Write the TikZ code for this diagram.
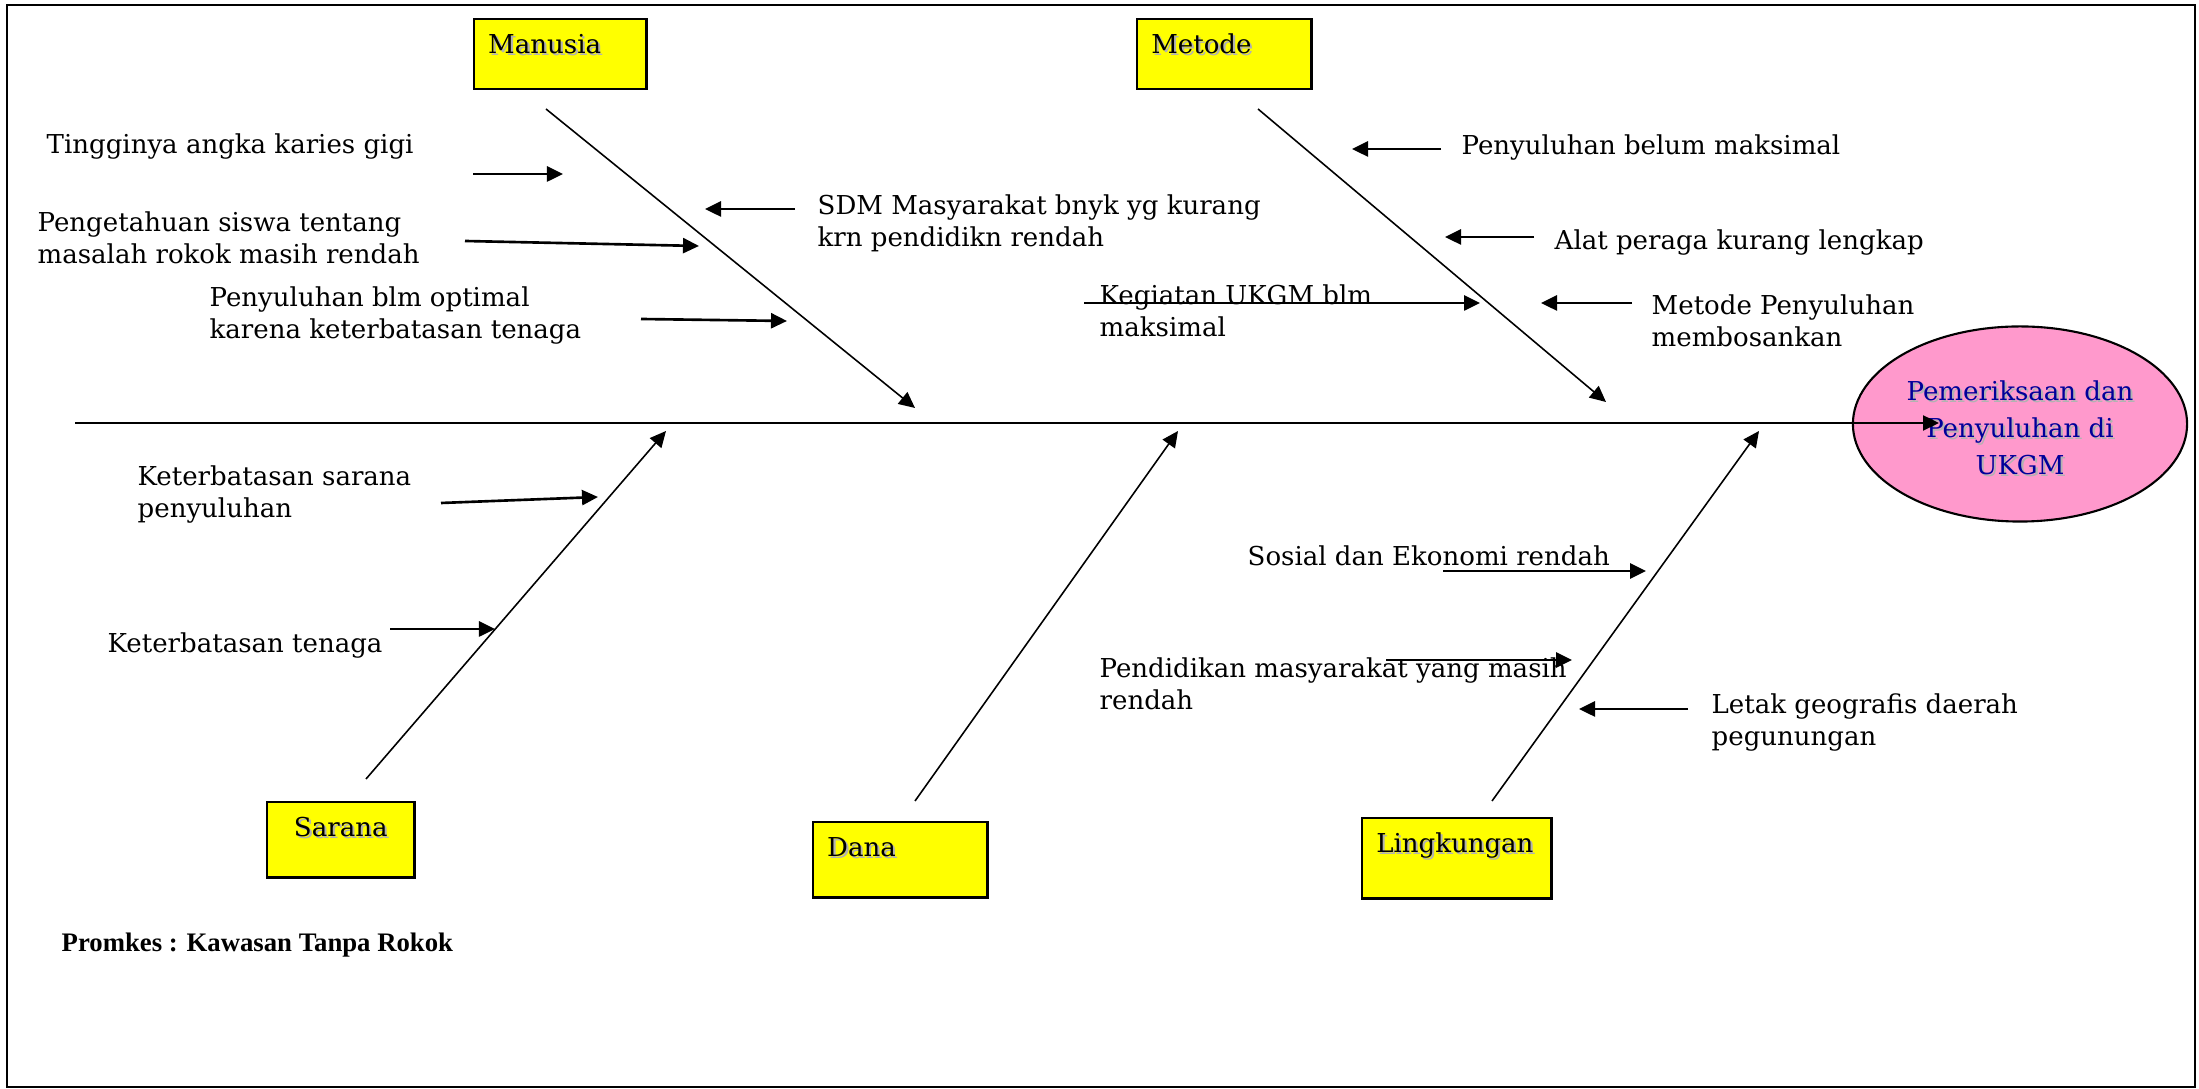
\documentclass[tikz,border=0pt]{standalone}
\usepackage{fontspec}
\setmainfont{DejaVu Serif}
\newfontfamily\titlefont{Liberation Serif}
\usetikzlibrary{arrows.meta}
\usetikzlibrary{positioning}
\usetikzlibrary{shapes.geometric}
\definecolor{causeyellow}{RGB}{255,255,0}
\definecolor{effectpink}{RGB}{255,153,204}
\definecolor{effectblue}{RGB}{0,0,153}
\newcommand{\shadowed}[1]{\makebox[0pt][l]{\kern0.6pt\raisebox{-0.6pt}{\textcolor{black!30}{#1}}}#1}
\tikzset{tip/.style={-{Triangle[length=0.16cm,width=0.15cm]}}}
\tikzset{bone/.style={line width=0.45pt, tip}}
\tikzset{spine/.style={line width=0.65pt, tip}}
\tikzset{sub/.style={line width=0.75pt, tip}}
\tikzset{cause/.style={draw, fill=causeyellow, line width=0.7pt, anchor=north west,
    inner xsep=0.14cm, inner ysep=0.1cm, text height=0.24cm, align=left}}
\tikzset{reason/.style={inner sep=0pt, anchor=west, align=left}}

\begin{document}
\begin{tikzpicture}[x=0.01cm, y=-0.01cm, font=\fontsize{7.4}{9.1}\selectfont]
    \useasboundingbox (0,0) rectangle (2199,1089);
    \draw[line width=0.8pt] (7,5) rectangle (2195,1087);

    % main categories
    \node[cause, text width=1.44cm, text depth=0.26cm] (manusia) at (473,18) {\shadowed{Manusia}};
    \node[cause, text width=1.46cm, text depth=0.26cm] (metode) at (1136,18) {\shadowed{Metode}};
    \node[cause, text width=1.19cm, text depth=0.31cm, align=center] (sarana) at (266,801) {\shadowed{Sarana}};
    \node[cause, text width=1.46cm, text depth=0.31cm] (dana) at (812,821) {\shadowed{Dana}};
    \node[cause, text width=1.61cm, text depth=0.36cm] (lingkungan) at (1361,817) {\shadowed{Lingkungan}};

    % effect
    \node[ellipse, draw, fill=effectpink, line width=0.6pt, minimum width=3.34cm, minimum height=1.95cm,
        inner sep=0pt, align=center, text=effectblue, font=\fontsize{7.4}{10.5}\selectfont]
        (effect) at (2020,424) {\rule{0pt}{0.29cm}\shadowed{Pemeriksaan dan}\\\shadowed{Penyuluhan di}\\\shadowed{UKGM}};

    % bones
    \coordinate (spineT) at (75,423);   \coordinate (spineH) at (1939,423);
    \coordinate (manT) at (546,109);    \coordinate (manH) at (915,408);
    \coordinate (metT) at (1258,109);   \coordinate (metH) at (1606,402);
    \coordinate (sarT) at (366,779);    \coordinate (sarH) at (666,431);
    \coordinate (danT) at (915,801);    \coordinate (danH) at (1178,431);
    \coordinate (linT) at (1492,801);   \coordinate (linH) at (1759,431);
    \draw[spine] (spineT) -- (spineH);
    \draw[bone] (manT) -- (manH);
    \draw[bone] (metT) -- (metH);
    \draw[bone] (sarT) -- (sarH);
    \draw[bone] (danT) -- (danH);
    \draw[bone] (linT) -- (linH);

    % causes: manusia
    \node[reason] (m1) at (46,147) {Tingginya angka karies gigi};
    \node[reason] (m2) at (37,238) {Pengetahuan siswa tentang\\masalah rokok masih rendah};
    \node[reason] (m3) at (209,316) {Penyuluhan blm optimal\\karena keterbatasan tenaga};
    \node[reason] (m4) at (817,223) {SDM Masyarakat bnyk yg kurang\\krn pendidikn rendah};
    \coordinate (a1) at (473,174);  \coordinate (a1h) at (563,174);
    \coordinate (a2) at (465,241);  \coordinate (a2h) at (699,246);
    \coordinate (a3) at (641,319);  \coordinate (a3h) at (787,321);
    \coordinate (a4) at (795,209);  \coordinate (a4h) at (705,209);
    \draw[sub] (a1) -- (a1h);
    \draw[sub] (a2) -- (a2h);
    \draw[sub] (a3) -- (a3h);
    \draw[sub] (a4) -- (a4h);

    % causes: metode
    \node[reason] (t1) at (1461,148) {Penyuluhan belum maksimal};
    \node[reason] (t2) at (1554,243) {Alat peraga kurang lengkap};
    \node[reason] (t3) at (1099,311) {Kegiatan UKGM blm\\maksimal};
    \node[reason] (t4) at (1651,321) {Metode Penyuluhan\\membosankan};
    \coordinate (b1) at (1441,149); \coordinate (b1h) at (1352,149);
    \coordinate (b2) at (1534,237); \coordinate (b2h) at (1445,237);
    \coordinate (b3) at (1084,303); \coordinate (b3h) at (1480,303);
    \coordinate (b4) at (1632,303); \coordinate (b4h) at (1541,303);
    \draw[sub] (b1) -- (b1h);
    \draw[sub] (b2) -- (b2h);
    \draw[sub] (b3) -- (b3h);
    \draw[sub] (b4) -- (b4h);

    % causes: sarana
    \node[reason] (s1) at (137,495) {Keterbatasan sarana\\penyuluhan};
    \node[reason] (s2) at (107,646) {Keterbatasan tenaga};
    \coordinate (c1) at (441,503);  \coordinate (c1h) at (598,497);
    \coordinate (c2) at (390,629);  \coordinate (c2h) at (495,629);
    \draw[sub] (c1) -- (c1h);
    \draw[sub] (c2) -- (c2h);

    % causes: lingkungan
    \node[reason] (g1) at (1247,556) {Sosial dan Ekonomi rendah};
    \node[reason] (g2) at (1099,684) {Pendidikan masyarakat yang masih\\rendah};
    \node[reason] (g3) at (1711,723) {Letak geografis daerah\\pegunungan};
    \coordinate (d1) at (1443,571); \coordinate (d1h) at (1646,571);
    \coordinate (d2) at (1386,660); \coordinate (d2h) at (1572,660);
    \coordinate (d3) at (1688,709); \coordinate (d3h) at (1579,709);
    \draw[sub] (d1) -- (d1h);
    \draw[sub] (d2) -- (d2h);
    \draw[sub] (d3) -- (d3h);

    \node[reason, font=\fontsize{7.6}{9.1}\titlefont\bfseries] (title) at (61,945) {Promkes : Kawasan Tanpa Rokok};
\end{tikzpicture}
\end{document}
